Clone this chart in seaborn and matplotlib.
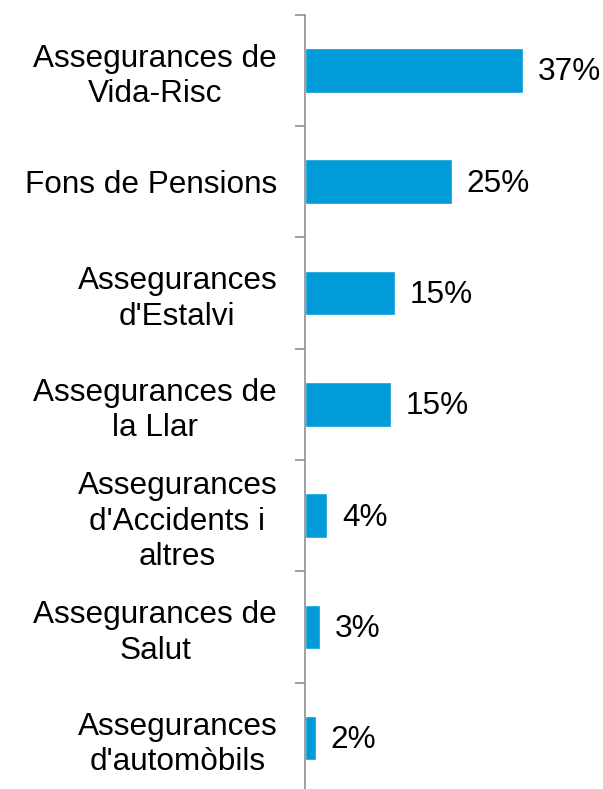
import matplotlib
matplotlib.use("Agg")
import matplotlib.pyplot as plt
import numpy as np
import pandas as pd
import seaborn as sns

categories = [
    "Assegurances de\nVida-Risc",
    "Fons de Pensions",
    "Assegurances\nd'Estalvi",
    "Assegurances de\nla Llar",
    "Assegurances\nd'Accidents i\naltres",
    "Assegurances de\nSalut",
    "Assegurances\nd'automòbils",
]
shares = [37.0, 24.9, 15.2, 14.5, 3.8, 2.5, 1.8]
share_labels = ["37%", "25%", "15%", "15%", "4%", "3%", "2%"]

BAR_COLOR = "#009BD8"
AXIS_COLOR = "#868686"
FONT_SIZE = 22.7

sns.set_theme(style="white")
plt.rcParams["font.family"] = ["Liberation Sans", "DejaVu Sans"]

df = pd.DataFrame({"category": categories, "share": shares})

W, H = 603, 789
fig = plt.figure(figsize=(W / 100, H / 100), dpi=100)
# axes: x from 305 px to 560 px, y from 14.7 px to 793.8 px (top-origin)
left, right = 305 / W, 560 / W
top, bottom = 1 - 14.7 / H, 1 - 793.8 / H
ax = fig.add_axes([left, bottom, right - left, top - bottom])

sns.barplot(data=df, x="share", y="category", color=BAR_COLOR, width=0.4,
            saturation=1, ax=ax)

ax.set_xlim(0, 37 * (560 - 305) / 218.3)
ax.set_ylim(len(categories) - 0.5, -0.5)

for i, (v, lab) in enumerate(zip(shares, share_labels)):
    ax.annotate(lab, xy=(v, i), xytext=(10.5, -1.5), textcoords="offset points",
                va="center", ha="left", fontsize=FONT_SIZE, color="black")

ax.set_xlabel("")
ax.set_ylabel("")
ax.set_xticks([])

# ticks sit on category boundaries, labels at centres
ax.set_yticks(np.arange(len(categories) + 1) - 0.5)
ax.set_yticklabels([])
ax.set_yticks(np.arange(len(categories)), minor=True)
ax.set_yticklabels(categories, minor=True, fontsize=FONT_SIZE, color="black",
                   multialignment="center", linespacing=1.24)
ax.tick_params(axis="y", which="major", length=7, width=1.1, color=AXIS_COLOR,
               direction="out", left=True)
ax.tick_params(axis="y", which="minor", length=0, pad=20)

for side in ["top", "right", "bottom"]:
    ax.spines[side].set_visible(False)
ax.spines["left"].set_color(AXIS_COLOR)
ax.spines["left"].set_linewidth(1.1)

fig.savefig("out.png", dpi=100)
